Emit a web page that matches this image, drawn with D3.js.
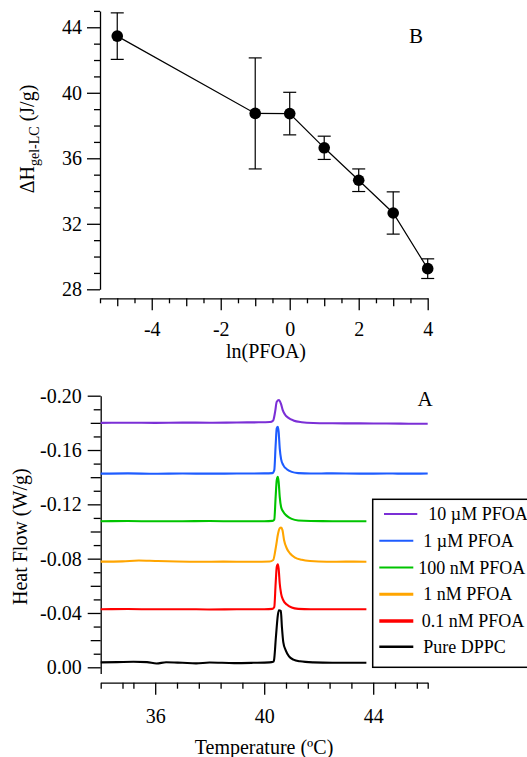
<!DOCTYPE html>
<html>
<head>
<meta charset="utf-8">
<script src="https://cdn.jsdelivr.net/npm/d3@7"></script>
<style>
  body { margin: 0; background: #fff; }
  svg { display: block; }
  .axis path, .axis line { stroke: #000; stroke-width: 1.3; }
</style>
</head>
<body>
<svg id="svg"></svg>
<script>
// ---- panel B : enthalpy vs ln(PFOA) ----
const lnPFOA = [-5, -1, 0, 1, 2, 3, 4];
const deltaH = [43.46, 38.74, 38.73, 36.64, 34.66, 32.66, 29.26];
const deltaHErr = [1.42, 3.39, 1.3, 0.71, 0.69, 1.29, 0.6];
const bYMajor = [28, 32, 36, 40, 44];
const bYMinor = [29, 30, 31, 33, 34, 35, 37, 38, 39, 41, 42, 43, 45];
const bXMajor = [-4, -2, 0, 2, 4];
const bXMedium = [-5, -3, -1, 1, 3];
const bXMinor = [-5.5, -4.5, -3.5, -2.5, -1.5, -0.5, 0.5, 1.5, 2.5, 3.5];

// ---- panel A : DSC thermograms ----
const seriesNames = ["10 \u00b5M PFOA", "1 \u00b5M PFOA", "100 nM PFOA", "1 nM PFOA", "0.1 nM PFOA", "Pure DPPC"];
const seriesColors = ["#7b2fd6", "#1e5cff", "#00c400", "#ffa500", "#ff0000", "#000000"];

const t10uM = [34.0, 35.0, 36.0, 37.0, 38.0, 39.0, 39.8, 40.21, 40.33, 40.40, 40.46, 40.54, 40.61, 40.68, 40.76, 40.89, 41.07, 41.38, 41.8, 42.5, 43.5, 44.5, 45.3, 46.0];
const hf10uM = [-0.1800, -0.1801, -0.1800, -0.1802, -0.1801, -0.1803, -0.1804, -0.1806, -0.1818, -0.1881, -0.1955, -0.1968, -0.1943, -0.1894, -0.1862, -0.1837, -0.1818, -0.1805, -0.1799, -0.1797, -0.1796, -0.1795, -0.1794, -0.1794];

const t1uM = [34.0, 35.0, 36.0, 37.0, 38.0, 39.0, 40.0, 40.3, 40.37, 40.42, 40.46, 40.50, 40.53, 40.57, 40.62, 40.70, 40.83, 41.01, 41.25, 41.7, 42.5, 43.5, 44.5, 45.3, 46.0];
const hf1uM = [-0.1426, -0.1428, -0.1425, -0.1427, -0.1426, -0.1427, -0.1428, -0.1430, -0.1452, -0.1636, -0.1759, -0.1771, -0.1734, -0.1612, -0.1533, -0.1489, -0.1459, -0.1439, -0.1430, -0.1427, -0.1428, -0.1426, -0.1427, -0.1426, -0.1427];

const t100nM = [34.0, 35.0, 36.0, 37.0, 38.0, 39.0, 40.0, 40.3, 40.37, 40.42, 40.46, 40.50, 40.53, 40.57, 40.62, 40.70, 40.83, 41.01, 41.25, 41.7, 42.5, 43.75];
const hf100nM = [-0.1076, -0.1077, -0.1075, -0.1076, -0.1077, -0.1075, -0.1076, -0.1078, -0.1088, -0.1255, -0.1378, -0.1402, -0.1366, -0.1255, -0.1181, -0.1145, -0.1115, -0.1093, -0.1081, -0.1077, -0.1076, -0.1075];

const t1nM = [34.0, 34.8, 35.4, 36.0, 36.8, 37.6, 38.5, 39.5, 40.2, 40.33, 40.43, 40.51, 40.57, 40.62, 40.67, 40.73, 40.83, 40.95, 41.13, 41.38, 41.68, 42.3, 43.0, 43.75];
const hf1nM = [-0.0778, -0.0780, -0.0786, -0.0783, -0.0779, -0.0777, -0.0778, -0.0777, -0.0779, -0.0790, -0.0887, -0.0985, -0.1024, -0.1029, -0.1010, -0.0936, -0.0875, -0.0838, -0.0808, -0.0792, -0.0783, -0.0777, -0.0778, -0.0777];

const t01nM = [34.0, 35.0, 36.0, 37.0, 38.0, 39.0, 40.0, 40.3, 40.37, 40.42, 40.46, 40.50, 40.53, 40.57, 40.62, 40.70, 40.83, 41.01, 41.25, 41.7, 42.5, 43.75];
const hf01nM = [-0.0428, -0.0429, -0.0427, -0.0428, -0.0426, -0.0427, -0.0428, -0.0430, -0.0444, -0.0617, -0.0739, -0.0759, -0.0727, -0.0617, -0.0543, -0.0494, -0.0462, -0.0440, -0.0430, -0.0427, -0.0428, -0.0427];

const tPure = [34.0, 34.6, 35.2, 35.7, 36.05, 36.4, 37.0, 37.5, 38.0, 38.9, 39.6, 40.2, 40.33, 40.36, 40.43, 40.50, 40.54, 40.61, 40.65, 40.70, 40.79, 40.91, 41.07, 41.31, 41.8, 42.5, 43.2, 43.75];
const hfPure = [-0.0036, -0.0038, -0.0041, -0.0038, -0.0028, -0.0037, -0.0033, -0.0029, -0.0035, -0.0031, -0.0033, -0.0036, -0.0040, -0.0052, -0.0223, -0.0383, -0.0420, -0.0415, -0.0297, -0.0186, -0.0125, -0.0081, -0.0057, -0.0044, -0.0036, -0.0033, -0.0034, -0.0033];

const aYMajor = [-0.20, -0.16, -0.12, -0.08, -0.04, 0.00];
const aYMedium = [-0.18, -0.14, -0.10, -0.06, -0.02];
const aYMinor = [-0.19, -0.17, -0.15, -0.13, -0.11, -0.09, -0.07, -0.05, -0.03, -0.01];
const aXMajor = [36, 40, 44];
const aXMinor = [34, 34.8, 35.2, 36.8, 37.6, 38.4, 39.2, 40.8, 41.6, 42.4, 43.2, 44.8, 45.6, 46];

const width = 527;
const height = 757;
const serif = "'Liberation Serif', 'Times New Roman', serif";
let svg = d3.select("#svg").attr("width", width).attr("height", height);

function styleAxis(g) {
    g.attr("class", "axis");
    g.selectAll("text")
        .style("font-family", serif)
        .style("font-size", "20px")
        .style("fill", "#000");
}

function label(x, y, txt, size, rotate) {
    const t = svg.append("text")
        .attr("transform", `translate(${x},${y})` + (rotate ? " rotate(-90)" : ""))
        .attr("text-anchor", "middle")
        .style("font-family", serif)
        .style("font-size", size + "px")
        .style("fill", "#000");
    if (txt) t.text(txt);
    return t;
}

function drawPanelB() {
    const xScale = d3.scaleLinear().domain([-5.5, 4]).range([100, 427.7]);
    const yScale = d3.scaleLinear().domain([28, 45]).range([289.3, 10.9]);

    // y axis
    const yAxis = svg.append("g").attr("transform", "translate(100,0)")
        .call(d3.axisLeft(yScale).tickValues(bYMajor).tickSize(13).tickSizeOuter(0).tickPadding(5));
    styleAxis(yAxis);
    svg.append("g").attr("transform", "translate(100,0)").attr("class", "axis")
        .call(d3.axisLeft(yScale).tickValues(bYMinor).tickSize(6).tickFormat(""))
        .select(".domain").remove();

    // x axis, offset below the plot like the original
    const xAxis = svg.append("g").attr("transform", "translate(0,298.3)")
        .call(d3.axisBottom(xScale).tickValues(bXMajor).tickSize(12).tickSizeOuter(0).tickPadding(12)
            .tickFormat(d => String(d)));
    styleAxis(xAxis);
    svg.append("g").attr("transform", "translate(0,298.3)").attr("class", "axis")
        .call(d3.axisBottom(xScale).tickValues(bXMedium).tickSize(8).tickFormat(""))
        .select(".domain").remove();
    svg.append("g").attr("transform", "translate(0,298.3)").attr("class", "axis")
        .call(d3.axisBottom(xScale).tickValues(bXMinor).tickSize(5).tickFormat(""))
        .select(".domain").remove();

    const pts = lnPFOA.map((x, i) => ({ x: x, y: deltaH[i], e: deltaHErr[i] }));

    svg.append("path")
        .datum(pts)
        .attr("fill", "none")
        .attr("stroke", "#000")
        .attr("stroke-width", 1.2)
        .attr("d", d3.line().x(d => xScale(d.x)).y(d => yScale(d.y)));

    const err = svg.append("g").attr("stroke", "#000").attr("stroke-width", 1.2);
    err.selectAll(".ebar").data(pts).enter().append("line")
        .attr("x1", d => xScale(d.x)).attr("x2", d => xScale(d.x))
        .attr("y1", d => yScale(d.y + d.e)).attr("y2", d => yScale(d.y - d.e));
    err.selectAll(".ctop").data(pts).enter().append("line")
        .attr("x1", d => xScale(d.x) - 6.5).attr("x2", d => xScale(d.x) + 6.5)
        .attr("y1", d => yScale(d.y + d.e)).attr("y2", d => yScale(d.y + d.e));
    err.selectAll(".cbot").data(pts).enter().append("line")
        .attr("x1", d => xScale(d.x) - 6.5).attr("x2", d => xScale(d.x) + 6.5)
        .attr("y1", d => yScale(d.y - d.e)).attr("y2", d => yScale(d.y - d.e));

    svg.selectAll(".dot").data(pts).enter().append("circle")
        .attr("cx", d => xScale(d.x))
        .attr("cy", d => yScale(d.y))
        .attr("r", 5.8)
        .attr("fill", "#000");

    // titles
    label(266, 358, "ln(PFOA)", 20);

    const yt = label(33.5, 139, null, 20, true);
    yt.append("tspan").text("\u0394H");
    yt.append("tspan").attr("dy", 5).style("font-size", "14px").text("gel-LC");
    yt.append("tspan").attr("dy", -5).text(" (J/g)");

    label(416, 42.5, "B", 21);
}

function drawPanelA() {
    const xScale = d3.scaleLinear().domain([34, 46]).range([100.7, 427.7]);
    const yScale = d3.scaleLinear().domain([-0.2, 0]).range([395.7, 667.3]);
    const yAxisScale = yScale.copy().domain([-0.2, 0.0046]).range([395.7, yScale(0.0046)]);
    const fmt = d => d3.format(".2f")(d).replace("\u2212", "-");

    const yAxis = svg.append("g").attr("transform", "translate(100.7,0)")
        .call(d3.axisLeft(yAxisScale).tickValues(aYMajor).tickSize(13).tickSizeOuter(0).tickPadding(6).tickFormat(fmt));
    styleAxis(yAxis);
    svg.append("g").attr("transform", "translate(100.7,0)").attr("class", "axis")
        .call(d3.axisLeft(yScale).tickValues(aYMedium).tickSize(10).tickFormat(""))
        .select(".domain").remove();
    svg.append("g").attr("transform", "translate(100.7,0)").attr("class", "axis")
        .call(d3.axisLeft(yScale).tickValues(aYMinor).tickSize(7).tickFormat(""))
        .select(".domain").remove();

    const xAxis = svg.append("g").attr("transform", "translate(0,682.7)")
        .call(d3.axisBottom(xScale).tickValues(aXMajor).tickSize(12).tickSizeOuter(0).tickPadding(14));
    styleAxis(xAxis);
    svg.append("g").attr("transform", "translate(0,682.7)").attr("class", "axis")
        .call(d3.axisBottom(xScale).tickValues(aXMinor).tickSize(6).tickFormat(""))
        .select(".domain").remove();

    const allT = [t10uM, t1uM, t100nM, t1nM, t01nM, tPure];
    const allHF = [hf10uM, hf1uM, hf100nM, hf1nM, hf01nM, hfPure];

    const line = d3.line()
        .x(d => xScale(d[0]))
        .y(d => yScale(d[1]))
        .curve(d3.curveMonotoneX);

    allT.forEach((ts, i) => {
        svg.append("path")
            .datum(ts.map((t, j) => [t, allHF[i][j]]))
            .attr("fill", "none")
            .attr("stroke", seriesColors[i])
            .attr("stroke-width", 2.1)
            .attr("stroke-linejoin", "round")
            .attr("d", line);
    });

    // legend box runs off the right edge in the original
    svg.append("rect")
        .attr("x", 372.7).attr("y", 499.3)
        .attr("width", 200).attr("height", 168)
        .attr("fill", "#fff")
        .attr("stroke", "#000")
        .attr("stroke-width", 1.5);

    const legendY = [514, 540.7, 567.5, 594.3, 621, 646.7];
    const legendLineX = [[384, 417.3], [379.3, 413.3], [379.3, 413.3], [379.3, 413.3], [379.3, 413.3], [379.3, 413.3]];
    const legendTextX = [428.3, 423.3, 418.3, 423.3, 421.7, 423.3];
    const legendWidths = [2, 2, 2, 3, 3.5, 2.5];
    seriesNames.forEach((name, i) => {
        svg.append("line")
            .attr("x1", legendLineX[i][0]).attr("x2", legendLineX[i][1])
            .attr("y1", legendY[i]).attr("y2", legendY[i])
            .attr("stroke", seriesColors[i])
            .attr("stroke-width", legendWidths[i]);
        svg.append("text")
            .attr("x", legendTextX[i]).attr("y", legendY[i] + 6)
            .style("font-family", serif)
            .style("font-size", "18px")
            .text(name);
    });

    label(264, 754, "Temperature (\u00baC)", 20);
    label(27, 536.7, "Heat Flow (W/g)", 20, true);
    label(425, 405.5, "A", 21);
}

drawPanelB();
drawPanelA();
</script>
</body>
</html>
